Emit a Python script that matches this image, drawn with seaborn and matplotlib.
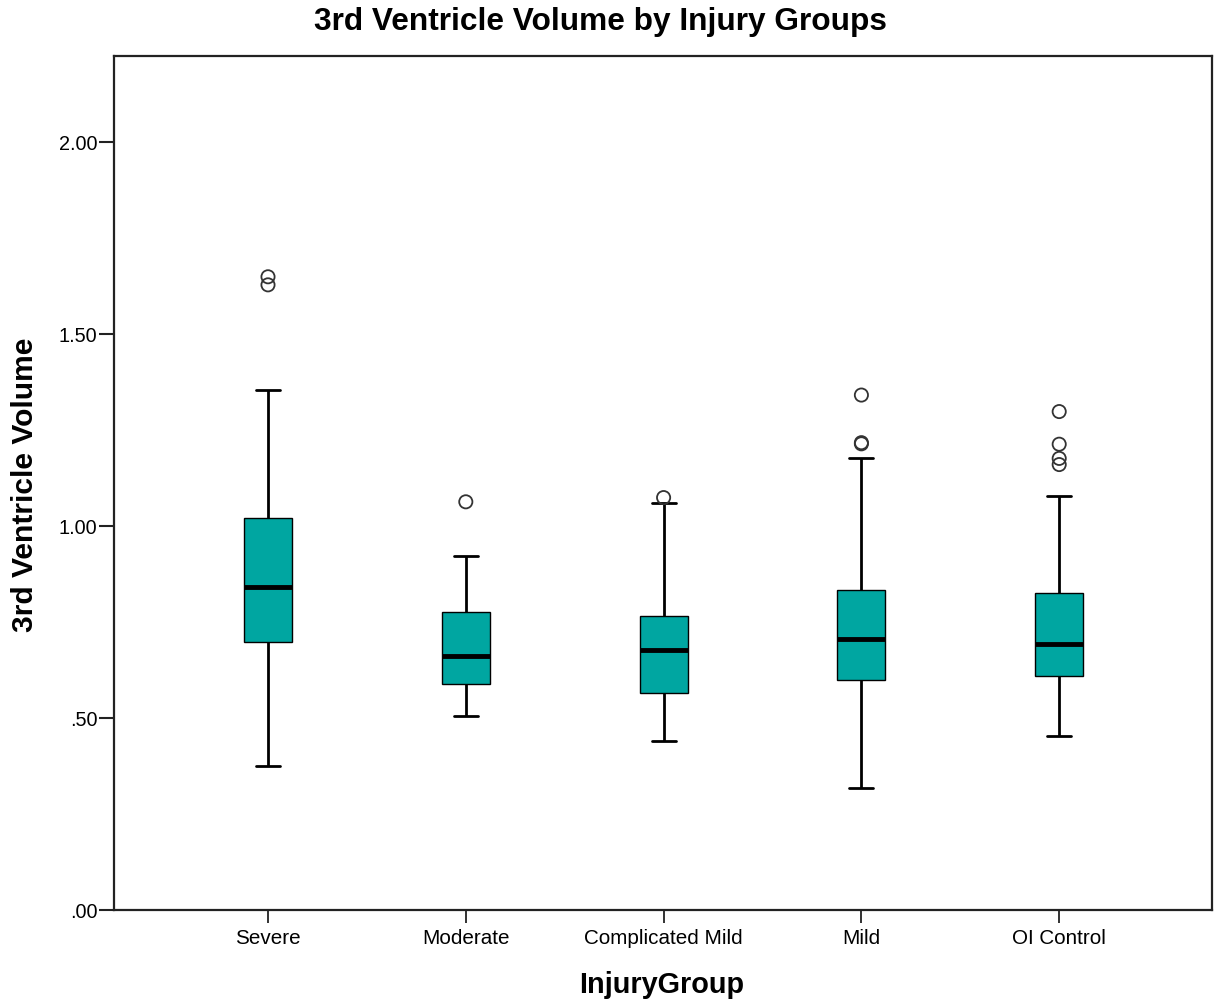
import matplotlib
matplotlib.use("Agg")
import matplotlib.pyplot as plt
import numpy as np
import pandas as pd
import seaborn as sns
from matplotlib import font_manager

# ---- data ----
groups = ["Severe", "Moderate", "Complicated Mild", "Mild", "OI Control"]
whisker_low = [0.375, 0.505, 0.439, 0.319, 0.454]
q1 = [0.698, 0.588, 0.565, 0.600, 0.610]
median = [0.841, 0.662, 0.678, 0.707, 0.692]
q3 = [1.021, 0.777, 0.765, 0.834, 0.825]
whisker_high = [1.353, 0.922, 1.061, 1.176, 1.077]

outlier_group = ["Severe", "Severe", "Moderate", "Complicated Mild",
                 "Mild", "Mild", "Mild",
                 "OI Control", "OI Control", "OI Control", "OI Control"]
outlier_value = [1.649, 1.628, 1.063, 1.074,
                 1.341, 1.217, 1.214,
                 1.298, 1.213, 1.176, 1.160]

ytick_values = [0.0, 0.5, 1.0, 1.5, 2.0]
ytick_labels = [".00", ".50", "1.00", "1.50", "2.00"]

title = "3rd Ventricle Volume by Injury Groups"
xlabel = "InjuryGroup"
ylabel = "3rd Ventricle Volume"

# ---- build long table: five summary values per group ----
rows = []
for g, a, b, c, d, e in zip(groups, whisker_low, q1, median, q3, whisker_high):
    for v in (a, b, c, d, e):
        rows.append({"InjuryGroup": g, "value": v})
df = pd.DataFrame(rows)
out_df = pd.DataFrame({"InjuryGroup": outlier_group, "value": outlier_value})

sns.set_style("white")
avail = {f.name for f in font_manager.fontManager.ttflist}
narrow = "Liberation Sans Narrow" if "Liberation Sans Narrow" in avail else "Liberation Sans"
plt.rcParams["font.family"] = ["Liberation Sans", "DejaVu Sans"]
plt.rcParams["text.color"] = "black"
plt.rcParams["axes.labelcolor"] = "black"
plt.rcParams["xtick.color"] = "black"
plt.rcParams["ytick.color"] = "black"

W, H = 1217, 1004
fig = plt.figure(figsize=(W / 100, H / 100), dpi=100)
left, right, top, bottom = 114, 1212, 57, 911
ax = fig.add_axes([left / W, 1 - bottom / H, (right - left) / W, (bottom - top) / H])

teal = "#00A6A1"
sns.boxplot(data=df, x="InjuryGroup", y="value", order=groups, ax=ax,
            whis=(0, 100), width=0.243, color=teal, saturation=1,
            linecolor="black", linewidth=1.0, showfliers=False,
            boxprops={"linewidth": 1.0},
            medianprops={"linewidth": 3.5, "color": "black"},
            whiskerprops={"linewidth": 2.0},
            capprops={"linewidth": 2.0})

sns.stripplot(data=out_df, x="InjuryGroup", y="value", order=groups, ax=ax,
              jitter=False, size=9.5, color="white", edgecolor="#333333",
              linewidth=1.3, zorder=5)
for coll in ax.collections:
    coll.set_facecolor("none")

x0 = 268
dx = 197.8
ax.set_xlim(-(x0 - left) / dx, 4 + (right - (x0 + 4 * dx)) / dx)
ax.set_ylim(0, (bottom - top) / 384.0)
ax.set_yticks(ytick_values)
ax.set_yticklabels(ytick_labels)
ax.set_xlabel("")
ax.set_ylabel("")

for s in ax.spines.values():
    s.set_visible(True)
    s.set_color("#222222")
    s.set_linewidth(1.6)

ax.tick_params(axis="y", which="major", left=True, length=11, width=1.5,
               color="#222222", pad=1, labelsize=14.3, labelcolor="black")
ax.tick_params(axis="x", which="major", bottom=True, length=9, width=1.3,
               color="#222222", pad=4, labelsize=14.9, labelcolor="black")
for lab in ax.get_xticklabels():
    lab.set_family([narrow, "Liberation Sans", "DejaVu Sans"])

fig.text(600 / W, 1 - 22 / H, title, ha="center", va="center", color="black",
         fontsize=22.8, fontweight="bold", family=["Liberation Sans", "DejaVu Sans"])
fig.text(662 / W, 1 - 985 / H, xlabel, ha="center", va="center", color="black",
         fontsize=20.8, fontweight="bold", family=[narrow, "Liberation Sans", "DejaVu Sans"])
fig.text(25 / W, 1 - 485 / H, ylabel, ha="center", va="center", rotation=90, color="black",
         fontsize=21.6, fontweight="bold", family=[narrow, "Liberation Sans", "DejaVu Sans"])

fig.savefig("out.png", dpi=100)
